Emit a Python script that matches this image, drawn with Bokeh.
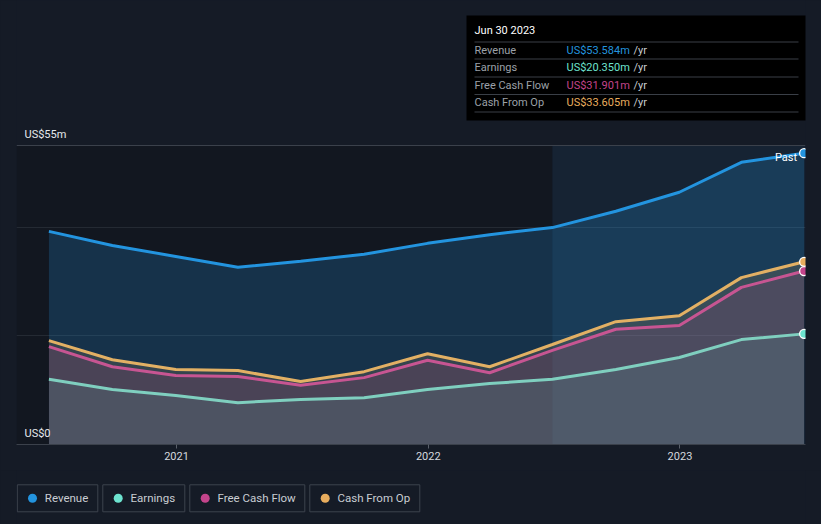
import pandas as pd
from bokeh.plotting import figure
from bokeh.models import (Range1d, FixedTicker, DatetimeTickFormatter, BoxAnnotation,
                          Label, Span, ColumnDataSource)
from bokeh.layouts import column
from bokeh.core.properties import value
from bokeh.embed import file_html
from bokeh.resources import INLINE

# ---------------- data ----------------
dates = ["2020-06-30", "2020-09-30", "2020-12-31", "2021-03-31", "2021-06-30",
         "2021-09-30", "2021-12-31", "2022-03-31", "2022-06-30", "2022-09-30",
         "2022-12-31", "2023-03-31", "2023-06-30"]
revenue = [39.2, 36.6, 34.6, 32.6, 33.7, 35.0, 37.0, 38.6, 39.9, 42.9, 46.4, 51.9, 53.584]
earnings = [12.0, 10.1, 9.0, 7.7, 8.3, 8.6, 10.1, 11.2, 12.0, 13.8, 16.0, 19.3, 20.350]
fcf = [18.0, 14.3, 12.7, 12.5, 10.9, 12.3, 15.5, 13.2, 17.3, 21.2, 21.9, 28.9, 31.901]
cfo = [19.1, 15.6, 13.8, 13.6, 11.6, 13.4, 16.7, 14.3, 18.4, 22.6, 23.7, 30.7, 33.605]
series_names = ["Revenue", "Earnings", "Free Cash Flow", "Cash From Op"]
tick_years = ["2021", "2022", "2023"]
y_labels = [("US$55m", 55), ("US$0", 0)]
past_start = "2022-06-30"

# ---------------- style ----------------
BG = "#151b26"
FONT = "Roboto"
colors = {"Revenue": "#2394df", "Earnings": "#6de3cf",
          "Free Cash Flow": "#c4448b", "Cash From Op": "#e8ad5e"}
line_colors = {"Revenue": "#2394df", "Earnings": "#7fcfbf",
               "Free Cash Flow": "#c75592", "Cash From Op": "#e2b064"}
fill_alpha = {"Revenue": 0.22, "Earnings": 0.10, "Free Cash Flow": 0.15, "Cash From Op": 0.15}
values = {"Revenue": revenue, "Earnings": earnings, "Free Cash Flow": fcf, "Cash From Op": cfo}

def ms(s):
    return pd.Timestamp(s).value / 1e6

x_start = ms("2020-05-14")
x_end = ms("2023-07-02")
FRAME_L, FRAME_W = 16, 789          # page px
FRAME_B = 444                       # page px of value 0
K = 299 / 55.0                      # px per unit
Y_TOP = FRAME_B / K

def dx(page_x):
    return x_start + (page_x - FRAME_L) * (x_end - x_start) / FRAME_W

def dy(page_y):
    return (FRAME_B - page_y) / K

x = [pd.Timestamp(d) for d in dates]
src = ColumnDataSource(dict(x=x, revenue=revenue, earnings=earnings, fcf=fcf, cfo=cfo))
cols = {"Revenue": "revenue", "Earnings": "earnings", "Free Cash Flow": "fcf", "Cash From Op": "cfo"}

p = figure(width=821, height=470, x_axis_type="datetime", output_backend="svg",
           toolbar_location=None, x_range=Range1d(x_start, x_end), y_range=Range1d(0, Y_TOP),
           min_border_left=16, min_border_right=16, min_border_top=0, min_border_bottom=26,
           background_fill_color=BG, border_fill_color=BG, outline_line_color=None,
           y_axis_location=None)

# background regions
p.add_layout(BoxAnnotation(left=x_start, right=ms(past_start), bottom=0, top=55,
                           fill_color="black", fill_alpha=0.14, line_color=None, level="underlay"))
p.add_layout(BoxAnnotation(left=ms(past_start), right=x_end, bottom=0, top=55,
                           fill_color="#1f4468", fill_alpha=0.2, line_color=None, level="underlay"))

p.xgrid.visible = False
p.ygrid.ticker = FixedTicker(ticks=[20, 40])
p.ygrid.grid_line_color = "#2a313c"
p.add_layout(Span(location=55, dimension="width", line_color="#3b414b", line_width=1))

# fills
for name in ["Revenue", "Cash From Op", "Free Cash Flow", "Earnings"]:
    p.varea(x="x", y1=0, y2=cols[name], source=src, fill_color=colors[name],
            fill_alpha=fill_alpha[name])
# lines
for name in ["Revenue", "Cash From Op", "Free Cash Flow", "Earnings"]:
    p.line(x="x", y=cols[name], source=src, line_color=line_colors[name], line_width=3)
# end markers
for name in ["Revenue", "Cash From Op", "Free Cash Flow", "Earnings"]:
    p.scatter([x[-1]], [values[name][-1]], size=9, fill_color=colors[name],
              line_color="white", line_width=1.3)

# x axis
p.xaxis.ticker = FixedTicker(ticks=[ms(y + "-01-01") for y in tick_years])
p.xaxis.formatter = DatetimeTickFormatter(years="%Y", months="%Y", days="%Y", hours="%Y",
                                          minutes="%Y", seconds="%Y", milliseconds="%Y")
p.xaxis.axis_line_color = "#3b414b"
p.xaxis.major_tick_line_color = "#5a606a"
p.xaxis.major_tick_out = 4
p.xaxis.major_tick_in = 0
p.xaxis.minor_tick_line_color = None
p.xaxis.major_label_text_color = "#d4d8de"
p.xaxis.major_label_text_font = FONT
p.xaxis.major_label_text_font_size = "11px"
p.xaxis.major_label_standoff = 3

# y labels
for txt, yv in y_labels:
    p.add_layout(Label(x=dx(24), y=yv, y_offset=5, text=txt, text_baseline="bottom",
                       text_color="#e6e9ed", text_font=FONT, text_font_size="11px"))

# Past label
p.add_layout(Label(x=x[-1].value / 1e6, y=revenue[-1], x_offset=-7, y_offset=-4, text="Past",
                   text_align="right", text_baseline="middle", text_color="#ffffff",
                   text_font=FONT, text_font_size="11px"))

# tooltip box
p.add_layout(BoxAnnotation(left=dx(466), right=dx(806), top=dy(15), bottom=dy(120),
                           fill_color="black", fill_alpha=1, line_color=None))
for sy in [41, 58, 76, 93.5, 111]:
    p.add_layout(BoxAnnotation(left=dx(474), right=dx(798), top=dy(sy), bottom=dy(sy + 1),
                               fill_color="#3a3f47", fill_alpha=1, line_color=None))
p.add_layout(Label(x=dx(474), y=dy(30), text=pd.Timestamp(dates[-1]).strftime("%b %d %Y"),
                   text_baseline="middle", text_color="#ffffff", text_font=FONT,
                   text_font_size="11px"))
for i, (name, ry) in enumerate(zip(series_names, [49.5, 66.5, 84.5, 101.5])):
    p.add_layout(Label(x=dx(474), y=dy(ry), text=name, text_baseline="middle",
                       text_color="#9ca1a8", text_font=FONT, text_font_size="11px"))
    p.add_layout(Label(x=dx(566), y=dy(ry), text="US$%.3fm" % values[name][-1],
                       text_baseline="middle", text_color=colors[name], text_font=FONT,
                       text_font_size="11px"))
    p.add_layout(Label(x=dx(633), y=dy(ry), text="/yr", text_baseline="middle",
                       text_color="#c8ccd2", text_font=FONT, text_font_size="11px"))

# ---------------- legend figure ----------------
# (its frame is aligned with the main frame, page x 16..805)
leg = figure(width=821, height=54, output_backend="svg", toolbar_location=None,
             x_range=Range1d(16, 805), y_range=Range1d(54, 0), min_border=0,
             min_border_left=16, min_border_right=16,
             background_fill_color=BG, border_fill_color=BG, outline_line_color=None,
             x_axis_location=None, y_axis_location=None)
leg.grid.visible = False
box_l = [16.8, 102.3, 189.3, 309.3]
box_r = [97.3, 184.3, 304.3, 419.3]
dot_x = [32, 117.7, 204.7, 324.7]
txt_x = [44.3, 130, 217, 337]
leg.quad(left=box_l, right=box_r, top=[14.3] * 4, bottom=[41.3] * 4, fill_color=None,
         line_color="#3d434d", line_width=1)
leg.scatter(dot_x, [27.7] * 4, size=9, fill_color=[colors[n] for n in series_names],
            line_color=None)
leg.text(txt_x, [27.7] * 4, text=series_names, text_baseline="middle",
         text_color="#c9cdd3", text_font=value(FONT), text_font_size="11.5px")

layout = column(p, leg, spacing=0, styles={"background-color": BG})
html = file_html(layout, INLINE)
html = html.replace("</head>", "<style>body{background:#151b26;}</style></head>", 1)
open("out.html", "w").write(html)
